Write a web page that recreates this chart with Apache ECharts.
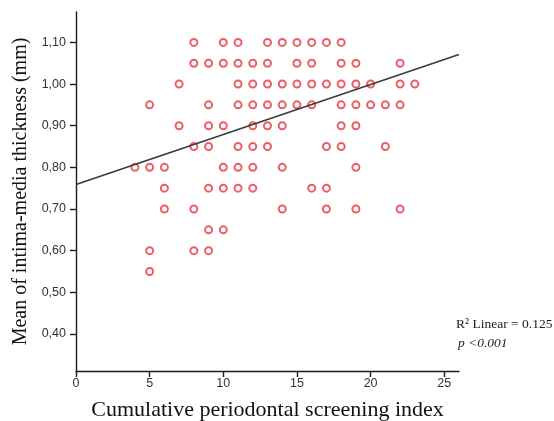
<!DOCTYPE html>
<html>
<head>
<meta charset="utf-8">
<script src="https://cdn.jsdelivr.net/npm/echarts@6/dist/echarts.min.js"></script>
<style>
  html, body { margin: 0; padding: 0; background: #fff; }
  #chart { width: 554px; height: 421px; }
</style>
</head>
<body>
<div id="chart"></div>
<script>
// IMT levels (mm) and the CPI values observed at each level
const imtLevels = [1.10, 1.05, 1.00, 0.95, 0.90, 0.85, 0.80, 0.75, 0.70, 0.65, 0.60, 0.55];
const cpiByLevel = [
  [8, 10, 11, 13, 14, 15, 16, 17, 18],
  [8, 9, 10, 11, 12, 13, 15, 16, 18, 19, 22],
  [7, 11, 12, 13, 14, 15, 16, 17, 18, 19, 20, 22, 23],
  [5, 9, 11, 12, 13, 14, 15, 16, 18, 19, 20, 21, 22],
  [7, 9, 10, 12, 13, 14, 18, 19],
  [8, 9, 11, 12, 13, 17, 18, 21],
  [4, 5, 6, 10, 11, 12, 14, 19],
  [6, 9, 10, 11, 12, 16, 17],
  [6, 8, 14, 17, 19, 22],
  [9, 10],
  [5, 8, 9],
  [5]
];
// fit line
const fitX = [0, 26];
const fitY = [0.759, 1.071];

const xTicks = [0, 5, 10, 15, 20, 25];
const yTicks = [0.4, 0.5, 0.6, 0.7, 0.8, 0.9, 1.0, 1.1];

const chart = echarts.init(document.getElementById('chart'));

const points = [];
imtLevels.forEach((lvl, i) => {
  cpiByLevel[i].forEach(x => points.push([x, lvl]));
});

const axisCol = '#1a1a1a';

const option = {
  backgroundColor: '#ffffff',
  animation: false,
  grid: { left: 76, right: 95, top: 12, bottom: 50, containLabel: false, outerBoundsMode: 'none' },
  xAxis: {
    type: 'value',
    min: 0,
    max: 26,
    name: 'Cumulative periodontal screening index',
    nameLocation: 'middle',
    nameGap: 28,
    nameTextStyle: { fontFamily: 'Liberation Serif', fontSize: 22, color: '#111' },
    splitLine: { show: false },
    axisLine: { onZero: false, lineStyle: { color: axisCol, width: 1.4 } },
    axisTick: { length: 6, lineStyle: { color: axisCol, width: 1.4 }, customValues: xTicks },
    axisLabel: { customValues: xTicks, margin: 6, fontFamily: 'Liberation Sans', fontSize: 12.5, color: '#333' }
  },
  yAxis: {
    type: 'value',
    min: 0.311,
    max: 1.173,
    name: 'Mean of intima-media thickness (mm)',
    nameLocation: 'middle',
    nameGap: 38,
    nameTextStyle: { fontFamily: 'Liberation Serif', fontSize: 20, color: '#111' },
    splitLine: { show: false },
    axisLine: { show: true, onZero: false, lineStyle: { color: axisCol, width: 1.4 } },
    axisTick: { show: true, length: 6, lineStyle: { color: axisCol, width: 1.4 }, customValues: yTicks },
    axisLabel: {
      customValues: yTicks,
      margin: 10,
      fontFamily: 'Liberation Sans',
      fontSize: 12.5,
      color: '#333',
      formatter: v => v.toFixed(2).replace('.', ',')
    }
  },
  series: [
    {
      type: 'scatter',
      data: points,
      symbol: 'emptyCircle',
      symbolSize: 7,
      itemStyle: { color: '#e8343f', borderWidth: 1.8 },
      z: 2
    },
    {
      type: 'line',
      data: fitX.map((x, i) => [x, fitY[i]]),
      symbol: 'none',
      lineStyle: { color: '#3a3a3a', width: 1.6 },
      z: 3
    }
  ],
  graphic: [
    {
      type: 'text', left: 456, top: 317,
      style: { text: 'R\u00B2 Linear = 0.125', font: '13.5px "Liberation Serif"', fill: '#222' }
    },
    {
      type: 'text', left: 458, top: 336,
      style: { text: 'p <0.001', font: 'italic 13.5px "Liberation Serif"', fill: '#222' }
    }
  ]
};

chart.setOption(option);
</script>
</body>
</html>
